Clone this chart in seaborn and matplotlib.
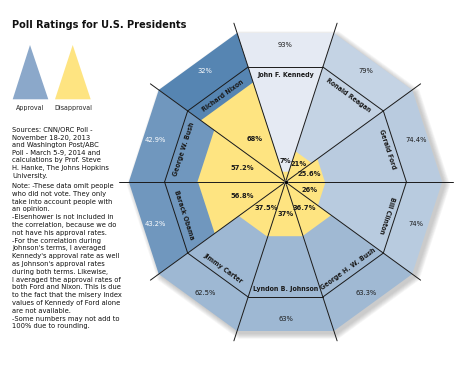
import numpy as np
import matplotlib
matplotlib.use("Agg")
import matplotlib.pyplot as plt
from matplotlib.patches import Polygon
import seaborn as sns

# sectors go counter-clockwise starting at 3 o'clock
presidents = ["Gerald Ford", "Ronald Reagan", "John F. Kennedy", "Richard Nixon",
              "George W. Bush", "Barack Obama", "Jimmy Carter", "Lyndon B. Johnson",
              "George H. W. Bush", "Bill Clinton"]
approval = [74.4, 79, 93, 32, 42.9, 43.2, 62.5, 63, 63.3, 74]
disapproval = [25.6, 21, 7, 68, 57.2, 56.8, 37.5, 37, 36.7, 26]

sources_text = ("Sources: CNN/ORC Poll -\nNovember 18-20, 2013\nand Washington Post/ABC\n"
                "Poll - March 5-9, 2014 and\ncalculations by Prof. Steve\n"
                "H. Hanke, The Johns Hopkins\nUniversity.")
note_text = ("Note: -These data omit people\nwho did not vote. They only\n"
             "take into account people with\nan opinion.\n"
             "-Eisenhower is not included in\nthe correlation, because we do\n"
             "not have his approval rates.\n-For the correlation during\n"
             "Johnson's terms, I averaged\nKennedy's approval rate as well\n"
             "as Johnson's approval rates\nduring both terms. Likewise,\n"
             "I averaged the approval rates of\nboth Ford and Nixon. This is due\n"
             "to the fact that the misery index\nvalues of Kennedy of Ford alone\n"
             "are not available.\n-Some numbers may not add to\n100% due to rounding.")

sns.set_theme(style="white")
plt.rcParams["font.family"] = ["DejaVu Sans"]
plt.rcParams["font.stretch"] = "condensed"

W, H = 458, 366
CX, CY = 285.5, 182
R_OUT = 149
R_SEP = 115
R_NAME = 107
R_APPR = 137
R_LINE = 167
PX_PER_PCT = 1.465
STEP = 36
HALF = np.radians(STEP / 2)

YELLOW = "#fee481"
INK = "#1a1a1a"
cmap = sns.blend_palette(["#5282b0", "#e9edf5"], as_cmap=True)


def pt(theta, r):
    t = np.radians(theta)
    return CX + r * np.cos(t), CY - r * np.sin(t)


def corner(theta, perp):
    # vertex on a sector boundary for a flat edge at distance perp
    return pt(theta, perp / np.cos(HALF))


fig = plt.figure(figsize=(W / 100, H / 100), dpi=100)
ax = fig.add_axes([0, 0, 1, 1])
ax.set_xlim(0, W)
ax.set_ylim(H, 0)
ax.axis("off")

# soft shadow under the decagon
n = len(presidents)
for k in range(7):
    verts = [corner(i * STEP, R_OUT + k * 0.8) for i in range(n)]
    verts = [(x + 3, y + 3) for x, y in verts]
    ax.add_patch(Polygon(verts, closed=True, facecolor="#707070", edgecolor="none",
                         alpha=0.06, zorder=1))

for i, (name, a, d) in enumerate(zip(presidents, approval, disapproval)):
    a0, a1 = i * STEP, (i + 1) * STEP
    ac = a0 + STEP / 2
    col = cmap((a - 30) / 65)
    ax.add_patch(Polygon([(CX, CY), corner(a0, R_OUT), corner(a1, R_OUT)],
                         closed=True, facecolor=col, edgecolor="none", zorder=2))
    dy = d * PX_PER_PCT
    ax.add_patch(Polygon([(CX, CY), corner(a0, dy), corner(a1, dy)],
                         closed=True, facecolor=YELLOW, edgecolor="none", zorder=3))
    # separator line of the name band
    p0, p1 = corner(a0, R_SEP), corner(a1, R_SEP)
    ax.plot([p0[0], p1[0]], [p0[1], p1[1]], color=INK, lw=0.7, zorder=4)

    rot = ac - 90 if (ac < 180 or ac > 330) else ac + 90
    x, y = pt(ac, R_NAME)
    ax.text(x, y, name, rotation=rot, ha="center", va="center", fontsize=5,
            fontweight="bold", color=INK, rotation_mode="anchor", zorder=6)

    x, y = pt(ac, R_APPR)
    ax.text(x, y, f"{a:g}%", ha="center", va="center", fontsize=5.4,
            color="white" if a < 50 else INK, zorder=6)

    r_lab = max(21, 8 + 0.45 * dy)
    x, y = pt(ac, r_lab)
    ax.text(x, y, f"{d:g}%", ha="center", va="center", fontsize=5.4,
            fontweight="bold", color=INK, zorder=6)

# diameters through the centre
for i in range(n // 2):
    p0, p1 = pt(i * STEP, R_LINE), pt(i * STEP + 180, R_LINE)
    ax.plot([p0[0], p1[0]], [p0[1], p1[1]], color=INK, lw=0.7, zorder=5)
sns.scatterplot(x=[CX], y=[CY], ax=ax, color="black", s=8, zorder=7, legend=False)
ax.set_xlim(0, W)
ax.set_ylim(H, 0)

# title and legend
ax.text(12, 20, "Poll Ratings for U.S. Presidents", fontsize=7.8, fontweight="bold",
        color="#111111", va="top", ha="left")
ax.add_patch(Polygon([(12.7, 99.3), (30, 45), (48.3, 99.3)], closed=True,
                     facecolor="#8ba8ca", edgecolor="none"))
ax.add_patch(Polygon([(55, 99.3), (72.7, 45), (90.7, 99.3)], closed=True,
                     facecolor=YELLOW, edgecolor="none"))
ax.text(30, 108, "Approval", fontsize=5, ha="center", va="center", color="#222222")
ax.text(73, 108, "Disapproval", fontsize=5, ha="center", va="center", color="#222222")

ax.text(12, 127, sources_text, fontsize=5.4, ha="left", va="top", color="#111111",
        linespacing=1.32)
ax.text(12, 183, note_text, fontsize=5.4, ha="left", va="top", color="#111111",
        linespacing=1.36)

fig.savefig("out.png", dpi=100)
plt.close(fig)
